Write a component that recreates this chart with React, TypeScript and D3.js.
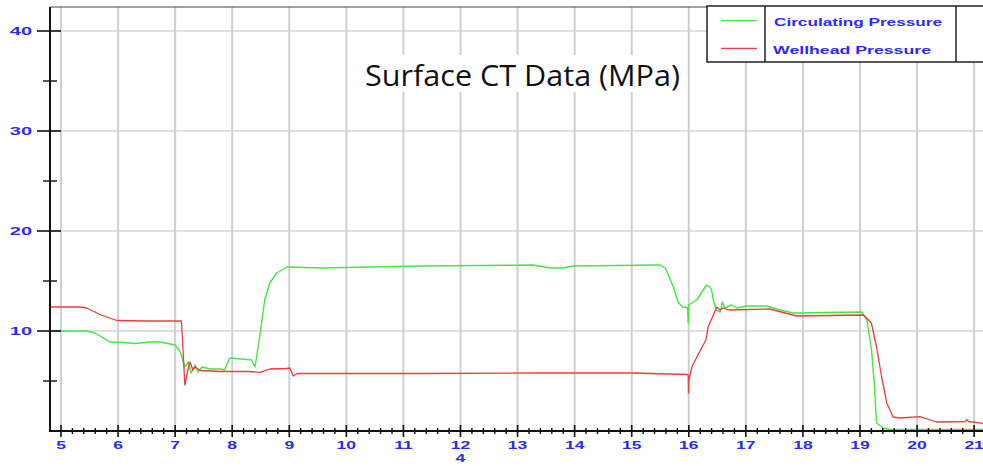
import React from "react";
import * as d3 from "d3";

const xMajorTicks = [5, 6, 7, 8, 9, 10, 11, 12, 13, 14, 15, 16, 17, 18, 19, 20, 21];
const yMajorTicks = [10, 20, 30, 40];
const yMinorTicks = [5, 15, 25, 35];
const xAxisSubLabel = "4";
const title = "Surface CT Data (MPa)";
const seriesNames = ["Circulating Pressure", "Wellhead Pressure"];

const circulating: [number, number][] = [
  [4.81, 10.0], [5.45, 10.0], [5.6, 9.8], [5.86, 8.9], [6.1, 8.85], [6.3, 8.75], [6.56, 8.9],
  [6.74, 8.9], [7.0, 8.6], [7.09, 7.9], [7.17, 6.4], [7.23, 6.9], [7.28, 5.8], [7.35, 6.6],
  [7.4, 5.9], [7.47, 6.4], [7.61, 6.2], [7.79, 6.2], [7.87, 6.1], [7.9, 6.6], [7.96, 7.3],
  [8.34, 7.1], [8.4, 6.4], [8.49, 9.8], [8.57, 13.1], [8.66, 14.8], [8.78, 15.8], [8.96, 16.4],
  [9.54, 16.3], [11.3, 16.5], [13.27, 16.6], [13.57, 16.3], [13.8, 16.3], [13.97, 16.5],
  [15.5, 16.6], [15.59, 16.3], [15.73, 14.4], [15.82, 12.8], [15.9, 12.4], [15.98, 12.3],
  [15.99, 10.8], [16.0, 12.6], [16.05, 12.8], [16.14, 13.1], [16.31, 14.6], [16.37, 14.4],
  [16.4, 14.1], [16.43, 13.1], [16.48, 12.1], [16.55, 11.9], [16.59, 12.9], [16.63, 12.3],
  [16.75, 12.6], [16.84, 12.3], [17.01, 12.5], [17.37, 12.5], [17.6, 12.1], [17.83, 11.8],
  [19.03, 11.9], [19.12, 11.1], [19.2, 8.2], [19.25, 4.8], [19.29, 0.8], [19.41, 0.27],
  [19.53, 0.15], [21.16, 0.15],
];

const wellhead: [number, number][] = [
  [4.81, 12.4], [5.33, 12.4], [5.45, 12.3], [5.7, 11.6], [5.98, 11.05], [6.5, 11.0], [7.11, 11.0],
  [7.13, 9.0], [7.17, 4.6], [7.22, 6.0], [7.26, 6.9], [7.31, 6.1], [7.35, 6.4], [7.44, 6.05],
  [7.8, 5.95], [8.3, 5.95], [8.49, 5.87], [8.66, 6.2], [8.95, 6.25], [9.01, 6.3], [9.07, 5.5],
  [9.14, 5.75], [9.19, 5.75], [11.3, 5.75], [13.3, 5.8], [15.0, 5.8], [15.99, 5.65],
  [15.995, 3.8], [16.0, 5.0], [16.06, 6.5], [16.3, 9.1], [16.34, 10.4], [16.49, 12.4],
  [16.55, 12.1], [16.6, 12.3], [16.7, 12.1], [17.42, 12.2], [17.89, 11.5], [19.06, 11.6],
  [19.15, 11.1], [19.2, 10.8], [19.29, 8.4], [19.38, 5.4], [19.47, 2.8], [19.58, 1.4],
  [19.7, 1.3], [20.05, 1.43], [20.34, 0.9], [20.85, 0.95], [20.87, 1.15], [20.9, 0.95],
  [21.16, 0.75],
];

const W = 983;
const H = 466;
const left = 50;
const bottom = 431;
const top = 7;
const blue = "#2a2aff";
const green = "#45e645";
const red = "#f03c3c";

export default function App() {
  const x = d3.scaleLinear().domain([5, 21]).range([61, 61 + 16 * 57.07]);
  const y = d3.scaleLinear().domain([0, 40]).range([431, 31]);
  const line = d3
    .line<[number, number]>()
    .x((d) => x(d[0]))
    .y((d) => y(d[1]));

  const xMinor = d3.range(48, 213, 2).map((v) => v / 10).filter((v) => !xMajorTicks.includes(v) && x(v) > left && x(v) <= W);

  const lblFont = "'Liberation Sans', Arial, sans-serif";

  return (
    <svg width={W} height={H} style={{ position: "absolute", left: 0, top: 0, background: "#fff" }}>
      <rect x={0} y={0} width={W} height={H} fill="#fff" />
      {yMajorTicks.map((t) => (
        <line key={"hg" + t} x1={left} x2={W} y1={y(t)} y2={y(t)} stroke="#c4c4c4" strokeWidth={1.2} />
      ))}
      {xMajorTicks.map((t) => (
        <line key={"vg" + t} x1={x(t)} x2={x(t)} y1={top} y2={bottom} stroke="#cfcfcf" strokeWidth={2} />
      ))}
      <rect x={352} y={55} width={332} height={37} fill="#fff" />
      <text
        x={522.5}
        y={86}
        textAnchor="middle"
        fontFamily="'Open Sans', 'Noto Sans', sans-serif"
        fontSize={30}
        fill="#111"
        textLength={315}
        lengthAdjust="spacingAndGlyphs"
      >
        {title}
      </text>
      <path d={line(circulating) || ""} fill="none" stroke={green} strokeWidth={1.4} strokeLinejoin="round" />
      <path d={line(wellhead) || ""} fill="none" stroke={red} strokeWidth={1.3} strokeLinejoin="round" />
      <line x1={left} x2={707} y1={top} y2={top} stroke="#444" strokeWidth={1} />
      <line x1={left} x2={left} y1={top} y2={bottom + 1} stroke="#111" strokeWidth={2} />
      <line x1={left - 1} x2={W} y1={bottom} y2={bottom} stroke="#111" strokeWidth={2} />
      {yMajorTicks.map((t) => (
        <g key={"yt" + t}>
          <line x1={37} x2={61} y1={y(t)} y2={y(t)} stroke="#111" strokeWidth={1.6} />
          <g transform={`translate(32,${y(t) + 4}) scale(1.9,1)`}>
            <text textAnchor="end" fontFamily={lblFont} fontWeight="bold" fontSize={10.5} fill={blue}>
              {t}
            </text>
          </g>
        </g>
      ))}
      {yMinorTicks.map((t) => (
        <line key={"ym" + t} x1={43} x2={57} y1={y(t)} y2={y(t)} stroke="#111" strokeWidth={1.4} />
      ))}
      {xMajorTicks.map((t) => (
        <g key={"xt" + t}>
          <line x1={x(t)} x2={x(t)} y1={425} y2={437} stroke="#111" strokeWidth={1.6} />
          <g transform={`translate(${x(t)},449) scale(1.75,1)`}>
            <text textAnchor="middle" fontFamily={lblFont} fontWeight="bold" fontSize={10} fill={blue}>
              {t}
            </text>
          </g>
        </g>
      ))}
      {xMinor.map((t) => (
        <line key={"xm" + t} x1={x(t)} x2={x(t)} y1={428} y2={434} stroke="#111" strokeWidth={1.4} />
      ))}
      <g transform={`translate(${x(12)},462) scale(1.75,1)`}>
        <text textAnchor="middle" fontFamily={lblFont} fontWeight="bold" fontSize={10} fill={blue}>
          {xAxisSubLabel}
        </text>
      </g>
      <rect x={707} y={6} width={290} height={56} fill="#fff" stroke="#222" strokeWidth={1.5} />
      <line x1={765} x2={765} y1={6} y2={62} stroke="#222" strokeWidth={1.5} />
      <line x1={956} x2={956} y1={6} y2={62} stroke="#222" strokeWidth={1.5} />
      <line x1={721} x2={757} y1={20.7} y2={20.7} stroke={green} strokeWidth={1.3} />
      <line x1={721} x2={757} y1={48.3} y2={48.3} stroke={red} strokeWidth={1.3} />
      <text x={774} y={26} fontFamily={lblFont} fontWeight="bold" fontSize={11} fill={blue} textLength={168} lengthAdjust="spacingAndGlyphs">
        {seriesNames[0]}
      </text>
      <text x={773} y={53.5} fontFamily={lblFont} fontWeight="bold" fontSize={11} fill={blue} textLength={158} lengthAdjust="spacingAndGlyphs">
        {seriesNames[1]}
      </text>
    </svg>
  );
}
